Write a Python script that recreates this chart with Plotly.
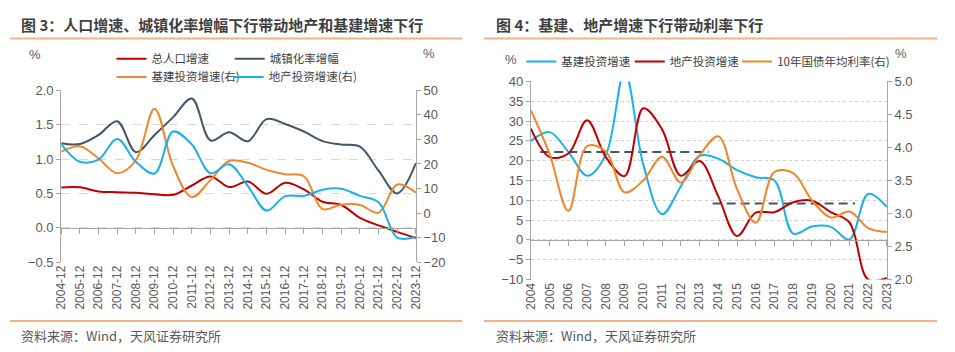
import plotly.graph_objects as go

# ---------------- data ----------------
years = [2004, 2005, 2006, 2007, 2008, 2009, 2010, 2011, 2012, 2013,
         2014, 2015, 2016, 2017, 2018, 2019, 2020, 2021, 2022, 2023]
left_ticktext = [f"{y}-12" for y in years]
right_ticktext = [str(y) for y in years]

# Figure 3
pop_growth = [0.587, 0.589, 0.528, 0.517, 0.508, 0.487, 0.479, 0.615, 0.746, 0.592,
              0.673, 0.494, 0.655, 0.559, 0.379, 0.332, 0.145, 0.034, -0.060, -0.148]
urban_incr = [1.23, 1.22, 1.35, 1.55, 1.10, 1.35, 1.61, 1.88, 1.27, 1.39,
              1.26, 1.58, 1.51, 1.40, 1.26, 1.21, 1.18, 0.83, 0.50, 0.94]
infra_growth = [25.0, 27.2, 22.2, 16.2, 21.5, 42.5, 19.0, 6.5, 13.5, 21.2,
                20.5, 17.6, 15.8, 15.0, 1.6, 3.4, 3.3, 0.1, 11.6, 8.3]
re_growth = [28.1, 20.9, 21.8, 30.2, 20.9, 16.1, 33.2, 27.9, 16.2, 19.9,
             11.0, 1.0, 6.9, 7.0, 9.5, 9.9, 7.0, 4.4, -10.0, -9.6]

# Figure 4
cgb10y = [4.56, 3.90, 3.04, 4.02, 3.94, 3.32, 3.50, 3.86, 3.47, 3.88,
          4.17, 3.37, 2.86, 3.63, 3.61, 3.20, 2.94, 3.03, 2.78, 2.72]
avg1_x = [2004.5, 2013.5]
avg1_y = [22.2, 22.2]
avg2_x = [2013.7, 2021.3]
avg2_y = [9.2, 9.2]

# axis ranges
L_y_range = [-0.5, 2.0]
L_y2_range = [-20, 50]
R_y_range = [-10, 40]
R_y2_range = [2.0, 5.0]

# ---------------- styling ----------------
W, H = 955, 352
RED = "#C00000"
GRAY = "#44546A"
ORANGE = "#F0862A"
BLUE = "#1AB0E8"
AXC = "#A6A6A6"
TXT = "#595959"
SEP = "#F4B183"
FONT = "Liberation Sans, Noto Sans CJK SC, sans-serif"
CJK = "Noto Sans CJK SC, Liberation Sans, sans-serif"

def px_x(p):
    return p / W

def px_y(p):
    return 1 - p / H

L_xdom = [px_x(55), px_x(415)]
L_ydom = [px_y(266.5), px_y(87)]
R_xdom = [px_x(531.7), px_x(893)]
R_ydom = [px_y(284.7), px_y(77.7)]

def zero_pos(dom, rng):
    return dom[0] + (0 - rng[0]) / (rng[1] - rng[0]) * (dom[1] - dom[0])

fig = go.Figure()
lw = 2
common = dict(mode="lines", line_shape="spline", hoverinfo="skip")

# left panel
fig.add_trace(go.Scatter(x=years, y=pop_growth, name="总人口增速", xaxis="x", yaxis="y",
                         line=dict(color=RED, width=lw, smoothing=1), legend="legend", **common))
fig.add_trace(go.Scatter(x=years, y=urban_incr, name="城镇化率增幅", xaxis="x", yaxis="y",
                         line=dict(color=GRAY, width=lw, smoothing=1), legend="legend2", **common))
fig.add_trace(go.Scatter(x=years, y=infra_growth, name="基建投资增速(右)", xaxis="x", yaxis="y2",
                         line=dict(color=ORANGE, width=lw, smoothing=1), legend="legend3", **common))
fig.add_trace(go.Scatter(x=years, y=re_growth, name="地产投资增速(右)", xaxis="x", yaxis="y2",
                         line=dict(color=BLUE, width=lw, smoothing=1), legend="legend4", **common))
# dummy for zero-line axis
fig.add_trace(go.Scatter(x=[years[0]], y=[None], xaxis="x3", yaxis="y", showlegend=False,
                         mode="lines", hoverinfo="skip"))

# right panel
fig.add_trace(go.Scatter(x=avg1_x, y=avg1_y, xaxis="x2", yaxis="y3", showlegend=False,
                         mode="lines", hoverinfo="skip",
                         line=dict(color=GRAY, width=2, dash="9px,5px")))
fig.add_trace(go.Scatter(x=avg2_x, y=avg2_y, xaxis="x2", yaxis="y3", showlegend=False,
                         mode="lines", hoverinfo="skip",
                         line=dict(color=GRAY, width=2, dash="9px,5px")))
fig.add_trace(go.Scatter(x=years, y=infra_growth, name="基建投资增速", xaxis="x2", yaxis="y3",
                         line=dict(color=BLUE, width=lw, smoothing=1), legend="legend5", **common))
fig.add_trace(go.Scatter(x=years, y=re_growth, name="地产投资增速", xaxis="x2", yaxis="y3",
                         line=dict(color=RED, width=lw, smoothing=1), legend="legend6", **common))
fig.add_trace(go.Scatter(x=years, y=cgb10y, name="10年国债年均利率(右)", xaxis="x2", yaxis="y4",
                         line=dict(color=ORANGE, width=lw, smoothing=1), legend="legend7", **common))
fig.add_trace(go.Scatter(x=[years[0]], y=[None], xaxis="x4", yaxis="y3", showlegend=False,
                         mode="lines", hoverinfo="skip"))

tickfont = dict(family=FONT, size=13, color=TXT)
xtickfont = dict(family=FONT, size=12, color=TXT)

xbase = dict(range=[years[0], years[-1]], tickvals=years, showgrid=False, zeroline=False,
             fixedrange=True)

def leg(x, y):
    return dict(orientation="h", x=px_x(x), y=px_y(y), xanchor="left", yanchor="middle",
                itemwidth=30, font=dict(family=CJK, size=11.5, color="#404040"),
                bgcolor="rgba(0,0,0,0)")

fig.update_layout(
    width=W, height=H, margin=dict(l=0, r=0, t=0, b=0),
    paper_bgcolor="white", plot_bgcolor="white",
    showlegend=True,
    xaxis=dict(domain=L_xdom, anchor="y", ticktext=left_ticktext, tickangle=-90,
               showline=False, ticks="", tickfont=xtickfont, **xbase),
    xaxis3=dict(domain=L_xdom, anchor="free", overlaying="x",
                position=zero_pos(L_ydom, L_y_range), showline=True, linecolor=AXC,
                linewidth=1, ticks="outside", ticklen=5, tickcolor=AXC,
                showticklabels=False, **xbase),
    yaxis=dict(domain=L_ydom, anchor="x", range=L_y_range, dtick=0.5, tick0=0,
               tickformat=".1f", showgrid=True, gridcolor="#D9D9D9", griddash="dash",
               gridwidth=1, zeroline=False, showline=True, linecolor=AXC,
               ticks="outside", ticklen=4, tickcolor=AXC, tickfont=tickfont, fixedrange=True),
    yaxis2=dict(overlaying="y", side="right", anchor="x", range=L_y2_range, dtick=10,
                showgrid=False, zeroline=False, showline=True, linecolor=AXC,
                ticks="outside", ticklen=4, tickcolor=AXC, tickfont=tickfont, fixedrange=True),
    xaxis2=dict(domain=R_xdom, anchor="y3", ticktext=right_ticktext, tickangle=-90,
                showline=False, ticks="", tickfont=xtickfont, **xbase),
    xaxis4=dict(domain=R_xdom, anchor="free", overlaying="x2",
                position=zero_pos(R_ydom, R_y_range), showline=True, linecolor=AXC,
                linewidth=1, ticks="outside", ticklen=5, tickcolor=AXC,
                showticklabels=False, **xbase),
    yaxis3=dict(domain=R_ydom, anchor="x2", range=R_y_range, dtick=5, tick0=0,
                showgrid=True, gridcolor="#D0D0D0", griddash="dot", gridwidth=1,
                zeroline=False, showline=True, linecolor=AXC, ticks="outside", ticklen=4,
                tickcolor=AXC, tickfont=tickfont, fixedrange=True),
    yaxis4=dict(overlaying="y3", side="right", anchor="x2", range=R_y2_range, dtick=0.5,
                tick0=0, tickformat=".1f", showgrid=False, zeroline=False, showline=True,
                linecolor=AXC, ticks="outside", ticklen=4, tickcolor=AXC,
                tickfont=tickfont, fixedrange=True),
    legend=leg(106, 54),
    legend2=leg(226, 54),
    legend3=leg(106, 73),
    legend4=leg(225, 73),
    legend5=leg(522, 57),
    legend6=leg(632, 57),
    legend7=leg(741, 57),
)

ann = []
def text(x, y, s, size=13, color=TXT, xanchor="left", family=CJK):
    ann.append(dict(x=px_x(x), y=px_y(y), xref="paper", yref="paper", text=s,
                    showarrow=False, xanchor=xanchor, yanchor="middle",
                    font=dict(family=family, size=size, color=color)))

text(12, 18, "<b>图 3：人口增速、城镇化率增幅下行带动地产和基建增速下行</b>", size=15, color="#3F3F3F")
text(494, 18, "<b>图 4：基建、地产增速下行带动利率下行</b>", size=15, color="#3F3F3F")
text(12, 343, "资料来源：Wind，天风证券研究所", size=13)
text(494, 343, "资料来源：Wind，天风证券研究所", size=13)
text(28, 50, "%", size=13, xanchor="center", family=FONT)
text(428, 49, "%", size=13, xanchor="center", family=FONT)
text(512, 55, "%", size=13, xanchor="center", family=FONT)
text(907, 49, "%", size=13, xanchor="center", family=FONT)
fig.update_layout(annotations=ann)

shapes = []
for x0, x1 in [(3, 462), (484, 944)]:
    for yy in (33, 328):
        shapes.append(dict(type="line", xref="paper", yref="paper",
                           x0=px_x(x0), x1=px_x(x1), y0=px_y(yy), y1=px_y(yy),
                           line=dict(color=SEP, width=2)))
fig.update_layout(shapes=shapes)

fig.write_html("out.html")
